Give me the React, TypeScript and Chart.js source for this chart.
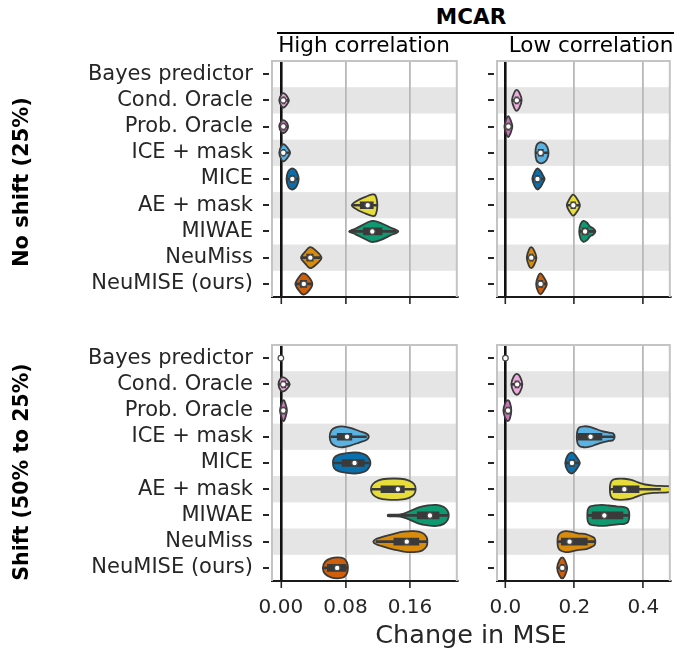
import React, { useEffect, useRef } from 'react';
import { Chart, registerables } from 'chart.js';

Chart.register(...registerables);

type Pt = [number, number];
type Range = [number, number] | null;

// ---------- data ----------
const categories = [
  'Bayes predictor',
  'Cond. Oracle',
  'Prob. Oracle',
  'ICE + mask',
  'MICE',
  'AE + mask',
  'MIWAE',
  'NeuMiss',
  'NeuMISE (ours)',
];

const violinColors = [
  '#949494',
  '#eeaadc',
  '#c87ab8',
  '#5ab2e3',
  '#0a70ad',
  '#e6dc3a',
  '#0d9a70',
  '#d98c0c',
  '#cf5f08',
];

const xTicksHigh = [0, 0.08, 0.16];
const xTickLabelsHigh = ['0.00', '0.08', '0.16'];
const xTicksLow = [0, 0.2, 0.4];
const xTickLabelsLow = ['0.0', '0.2', '0.4'];
const xRangeHigh: [number, number] = [-0.011, 0.218];
const xRangeLow: [number, number] = [-0.0245, 0.4769];

// No shift (25%), high correlation
const noShiftHighMedian = [null, 0.003, 0.003, 0.003, 0.0142, 0.1076, 0.1133, 0.0365, 0.0284];
const noShiftHighBox: Range[] = [null, [0.002, 0.005], [0.002, 0.005], [0.002, 0.005], [0.011, 0.017], [0.0983, 0.1145], [0.1023, 0.1254], [0.032, 0.040], [0.024, 0.032]];
const noShiftHighWhisker: Range[] = [null, [-0.001, 0.009], [-0.001, 0.008], [-0.001, 0.010], [0.008, 0.021], [0.088, 0.119], [0.086, 0.143], [0.026, 0.049], [0.019, 0.038]];
const noShiftHighProfile: Pt[][] = [
  [],
  [[-0.002, 0], [0.001, 0.6], [0.004, 0.67], [0.007, 0.45], [0.010, 0]],
  [[-0.002, 0], [0.001, 0.55], [0.004, 0.6], [0.007, 0.4], [0.009, 0]],
  [[-0.002, 0], [0.001, 0.7], [0.004, 0.8], [0.008, 0.5], [0.0115, 0]],
  [[0.007, 0], [0.009, 0.7], [0.013, 1], [0.018, 0.85], [0.021, 0.4], [0.022, 0]],
  [[0.088, 0], [0.095, 0.45], [0.105, 0.8], [0.112, 1], [0.117, 0.95], [0.1195, 0]],
  [[0.0845, 0], [0.092, 0.25], [0.101, 0.6], [0.110, 0.95], [0.115, 1], [0.124, 0.8], [0.135, 0.4], [0.1455, 0]],
  [[0.025, 0], [0.030, 0.55], [0.036, 1], [0.043, 0.7], [0.0503, 0]],
  [[0.018, 0], [0.022, 0.6], [0.027, 1], [0.033, 0.8], [0.039, 0]],
];

// No shift (25%), low correlation
const noShiftLowMedian = [null, 0.033, 0.0085, 0.102, 0.093, 0.197, 0.231, 0.075, 0.102];
const noShiftLowBox: Range[] = [null, [0.028, 0.037], [0.004, 0.012], [0.095, 0.11], [0.087, 0.099], [0.19, 0.203], [0.223, 0.24], [0.07, 0.08], [0.096, 0.108]];
const noShiftLowWhisker: Range[] = [null, [0.02, 0.046], [-0.002, 0.019], [0.088, 0.124], [0.079, 0.112], [0.18, 0.214], [0.215, 0.258], [0.063, 0.089], [0.09, 0.119]];
const noShiftLowProfile: Pt[][] = [
  [],
  [[0.019, 0], [0.025, 0.7], [0.032, 1], [0.040, 0.75], [0.047, 0]],
  [[-0.003, 0], [0.003, 0.75], [0.008, 1], [0.014, 0.7], [0.020, 0]],
  [[0.087, 0], [0.090, 0.7], [0.097, 0.95], [0.105, 1], [0.115, 0.85], [0.122, 0.5], [0.125, 0]],
  [[0.078, 0], [0.085, 0.7], [0.093, 1], [0.102, 0.75], [0.108, 0.4], [0.1135, 0]],
  [[0.178, 0], [0.186, 0.6], [0.196, 1], [0.206, 0.7], [0.216, 0]],
  [[0.214, 0], [0.218, 0.7], [0.226, 1], [0.236, 0.85], [0.246, 0.45], [0.255, 0.3], [0.261, 0]],
  [[0.062, 0], [0.068, 0.75], [0.075, 1], [0.083, 0.7], [0.090, 0]],
  [[0.089, 0], [0.095, 0.75], [0.102, 1], [0.110, 0.7], [0.120, 0]],
];

// Shift (50% to 25%), high correlation
const shiftHighMedian = [0, 0.003, 0.003, 0.082, 0.0913, 0.145, 0.1847, 0.156, 0.0698];
const shiftHighBox: Range[] = [null, [0.001, 0.006], [0.001, 0.005], [0.0698, 0.088], [0.0758, 0.1035], [0.124, 0.153], [0.169, 0.196], [0.140, 0.171], [0.0576, 0.0808]];
const shiftHighWhisker: Range[] = [null, [-0.002, 0.010], [-0.001, 0.007], [0.062, 0.106], [0.066, 0.110], [0.113, 0.166], [0.133, 0.207], [0.118, 0.181], [0.053, 0.083]];
const shiftHighProfile: Pt[][] = [
  [],
  [[-0.003, 0], [0.000, 0.6], [0.004, 0.65], [0.008, 0.4], [0.011, 0]],
  [[-0.001, 0], [0.0015, 0.8], [0.0035, 1], [0.0055, 0.7], [0.0075, 0]],
  [[0.0605, 0], [0.0625, 0.6], [0.068, 0.9], [0.076, 1], [0.086, 0.85], [0.097, 0.55], [0.106, 0.3], [0.109, 0]],
  [[0.0645, 0], [0.066, 0.5], [0.072, 0.8], [0.082, 0.95], [0.092, 1], [0.101, 0.9], [0.107, 0.65], [0.111, 0]],
  [[0.1116, 0], [0.114, 0.5], [0.121, 0.85], [0.132, 1], [0.148, 1], [0.158, 0.85], [0.165, 0.5], [0.167, 0]],
  [[0.1327, 0], [0.134, 0.08], [0.148, 0.1], [0.158, 0.35], [0.170, 0.75], [0.182, 0.95], [0.193, 1], [0.202, 0.8], [0.2065, 0.45], [0.208, 0]],
  [[0.1145, 0], [0.118, 0.25], [0.128, 0.5], [0.140, 0.75], [0.152, 0.95], [0.165, 1], [0.175, 0.85], [0.1805, 0.45], [0.1815, 0]],
  [[0.052, 0], [0.055, 0.6], [0.062, 0.9], [0.070, 1], [0.078, 0.9], [0.082, 0.5], [0.083, 0]],
];

// Shift (50% to 25%), low correlation
const shiftLowMedian = [0, 0.034, 0.0075, 0.247, 0.193, 0.345, 0.287, 0.186, 0.165];
const shiftLowBox: Range[] = [null, [0.028, 0.039], [0.002, 0.012], [0.21, 0.28], [0.186, 0.2], [0.3127, 0.3876], [0.2515, 0.341], [0.162, 0.2375], [0.16, 0.17]];
const shiftLowWhisker: Range[] = [null, [0.018, 0.048], [-0.005, 0.016], [0.208, 0.316], [0.175, 0.215], [0.304, 0.45], [0.239, 0.358], [0.152, 0.26], [0.151, 0.178]];
const shiftLowProfile: Pt[][] = [
  [],
  [[0.017, 0], [0.024, 0.75], [0.033, 1], [0.042, 0.75], [0.049, 0]],
  [[-0.006, 0], [0.000, 0.75], [0.007, 1], [0.013, 0.75], [0.017, 0]],
  [[0.207, 0], [0.209, 0.6], [0.215, 0.9], [0.228, 1], [0.245, 0.95], [0.262, 0.75], [0.280, 0.55], [0.300, 0.4], [0.312, 0.33], [0.317, 0]],
  [[0.1735, 0], [0.180, 0.7], [0.190, 1], [0.200, 0.85], [0.210, 0.4], [0.216, 0]],
  [[0.303, 0], [0.305, 0.6], [0.312, 0.9], [0.325, 1], [0.345, 1], [0.365, 0.9], [0.385, 0.65], [0.405, 0.45], [0.430, 0.35], [0.470, 0.3], [0.500, 0.2], [0.530, 0]],
  [[0.2375, 0], [0.239, 0.55], [0.245, 0.85], [0.260, 0.95], [0.280, 1], [0.300, 0.95], [0.325, 0.85], [0.345, 0.8], [0.356, 0.6], [0.3595, 0]],
  [[0.151, 0], [0.153, 0.55], [0.160, 0.85], [0.175, 1], [0.190, 0.95], [0.210, 0.8], [0.235, 0.7], [0.250, 0.5], [0.258, 0.35], [0.261, 0]],
  [[0.150, 0], [0.157, 0.75], [0.165, 1], [0.172, 0.75], [0.179, 0]],
];

// ---------- drawing helpers ----------
const FONT = 'DejaVu Sans';
const DARK = '#3a3a3a';

function smoothClosed(ctx: CanvasRenderingContext2D, pts: Pt[]) {
  const n = pts.length;
  ctx.moveTo(pts[0][0], pts[0][1]);
  const t = 1 / 6;
  for (let i = 0; i < n; i++) {
    const p0 = pts[(i - 1 + n) % n];
    const p1 = pts[i];
    const p2 = pts[(i + 1) % n];
    const p3 = pts[(i + 2) % n];
    ctx.bezierCurveTo(
      p1[0] + (p2[0] - p0[0]) * t,
      p1[1] + (p2[1] - p0[1]) * t,
      p2[0] - (p3[0] - p1[0]) * t,
      p2[1] - (p3[1] - p1[1]) * t,
      p2[0],
      p2[1]
    );
  }
  ctx.closePath();
}

function makeViolinPlugin(profiles: Pt[][]) {
  return {
    id: 'violins',
    beforeDraw(chart: any) {
      const { ctx, chartArea: a, scales } = chart;
      const y = scales.y;
      const band = (a.bottom - a.top) / categories.length;
      ctx.save();
      ctx.fillStyle = '#e5e5e5';
      categories.forEach((_c, i) => {
        if (i % 2 === 1) {
          const cy = y.getPixelForValue(i);
          ctx.fillRect(a.left, cy - band / 2, a.right - a.left, band);
        }
      });
      ctx.restore();
    },
    beforeDatasetsDraw(chart: any) {
      const { ctx, chartArea: a, scales } = chart;
      const x = scales.x;
      const y = scales.y;
      const band = (a.bottom - a.top) / categories.length;
      const hw = band * 0.4;
      ctx.save();
      ctx.beginPath();
      ctx.rect(a.left, a.top, a.right - a.left, a.bottom - a.top);
      ctx.clip();
      profiles.forEach((prof, i) => {
        if (!prof || prof.length < 2) return;
        const cy = y.getPixelForValue(i);
        const upper: Pt[] = prof.map(([v, w]) => [x.getPixelForValue(v), cy - w * hw]);
        const lower: Pt[] = prof
          .slice(1, prof.length - 1)
          .reverse()
          .map(([v, w]) => [x.getPixelForValue(v), cy + w * hw]);
        const loop = upper.concat(lower);
        ctx.beginPath();
        smoothClosed(ctx, loop);
        ctx.fillStyle = violinColors[i];
        ctx.fill();
        ctx.lineWidth = 1.8;
        ctx.lineJoin = 'round';
        ctx.strokeStyle = DARK;
        ctx.stroke();
      });
      ctx.restore();
    },
    afterDatasetsDraw(chart: any) {
      const { ctx, chartArea: a, scales } = chart;
      const y = scales.y;
      ctx.save();
      ctx.strokeStyle = '#c4c4c4';
      ctx.lineWidth = 2;
      ctx.beginPath();
      ctx.moveTo(a.left, a.bottom);
      ctx.lineTo(a.left, a.top);
      ctx.lineTo(a.right, a.top);
      ctx.lineTo(a.right, a.bottom);
      ctx.stroke();
      ctx.strokeStyle = '#262626';
      ctx.lineWidth = 2;
      categories.forEach((_c, i) => {
        const cy = Math.round(y.getPixelForValue(i));
        ctx.beginPath();
        ctx.moveTo(a.left - 9, cy);
        ctx.lineTo(a.left - 3, cy);
        ctx.stroke();
      });
      ctx.restore();
    },
  };
}

interface PanelProps {
  left: number;
  top: number;
  width: number;
  height: number;
  padTop: number;
  padRight: number;
  yWidth: number;
  xHeight: number;
  showY: boolean;
  showX: boolean;
  xRange: [number, number];
  xTicks: number[];
  xTickLabels: string[];
  median: (number | null)[];
  box: Range[];
  whisker: Range[];
  profile: Pt[][];
}

function Panel(p: PanelProps) {
  const ref = useRef<HTMLCanvasElement>(null);
  useEffect(() => {
    const medianPoints = p.median
      .map((m, i) => (m === null ? null : { x: m, y: categories[i] }))
      .filter((d) => d !== null);
    const chart = new Chart(ref.current as HTMLCanvasElement, {
      type: 'bar',
      data: {
        labels: categories,
        datasets: [
          {
            type: 'scatter',
            data: medianPoints as any,
            pointRadius: 2.8,
            pointBackgroundColor: '#ffffff',
            pointBorderColor: '#4a4a4a',
            pointBorderWidth: 1.2,
            order: 0,
          } as any,
          {
            type: 'bar',
            data: p.box as any,
            backgroundColor: DARK,
            borderWidth: 0,
            barThickness: 7,
            grouped: false,
            order: 1,
          } as any,
          {
            type: 'bar',
            data: p.whisker as any,
            backgroundColor: DARK,
            borderWidth: 0,
            barThickness: 2,
            grouped: false,
            order: 2,
          } as any,
        ],
      },
      options: {
        animation: false,
        responsive: false,
        devicePixelRatio: 1,
        indexAxis: 'y',
        events: [],
        layout: { padding: { top: p.padTop, right: p.padRight, left: 0, bottom: 0 } },
        plugins: {
          legend: { display: false },
          tooltip: { enabled: false },
          title: { display: false },
        },
        scales: {
          x: {
            type: 'linear',
            position: 'bottom',
            min: p.xRange[0],
            max: p.xRange[1],
            afterBuildTicks: (s: any) => {
              s.ticks = p.xTicks.map((v) => ({ value: v }));
            },
            afterFit: (s: any) => {
              s.height = p.xHeight;
              s.paddingLeft = 0;
              s.paddingRight = 0;
              s.paddingTop = 0;
              s.paddingBottom = 0;
            },
            ticks: {
              display: p.showX,
              autoSkip: false,
              maxRotation: 0,
              minRotation: 0,
              padding: 8,
              color: '#262626',
              font: { family: FONT, size: 20 },
              callback: (_v: any, i: number) => p.xTickLabels[i],
            },
            grid: {
              display: true,
              drawOnChartArea: true,
              drawTicks: true,
              tickLength: 7,
              tickWidth: 1.6,
              tickColor: '#262626',
              color: (c: any) => (c.tick && c.tick.value === 0 ? '#111111' : '#b8b8b8'),
              lineWidth: (c: any) => (c.tick && c.tick.value === 0 ? 2.6 : 1.8),
            },
            border: { display: true, color: '#1a1a1a', width: 2 },
          },
          y: {
            type: 'category',
            position: 'left',
            offset: true,
            afterFit: (s: any) => {
              s.width = p.yWidth;
              s.paddingLeft = 0;
              s.paddingRight = 0;
              s.paddingTop = 0;
              s.paddingBottom = 0;
            },
            ticks: {
              display: p.showY,
              autoSkip: false,
              padding: 19,
              color: '#262626',
              font: { family: FONT, size: 21 },
            },
            grid: { display: false, drawTicks: false },
            border: { display: false },
          },
        },
      } as any,
      plugins: [makeViolinPlugin(p.profile)],
    });
    return () => chart.destroy();
  }, []);
  return (
    <canvas
      ref={ref}
      width={p.width}
      height={p.height}
      style={{ position: 'absolute', left: p.left, top: p.top, width: p.width, height: p.height }}
    />
  );
}

function Label(props: {
  x: number;
  y: number;
  size: number;
  bold?: boolean;
  rotate?: boolean;
  color?: string;
  children: React.ReactNode;
}) {
  return (
    <div
      style={{
        position: 'absolute',
        left: props.x,
        top: props.y,
        transform: `translate(-50%, -50%)${props.rotate ? ' rotate(-90deg)' : ''}`,
        fontFamily: FONT,
        fontSize: props.size,
        fontWeight: props.bold ? 'bold' : 'normal',
        lineHeight: 1,
        whiteSpace: 'nowrap',
        color: props.color || '#000',
      }}
    >
      {props.children}
    </div>
  );
}

export default function App() {
  const topCommon = { top: 50, height: 260, padTop: 11, xHeight: 13, showX: false };
  const botCommon = { top: 335, height: 286, padTop: 10, xHeight: 40, showX: true };
  const leftCommon = {
    left: 0,
    width: 462,
    padRight: 2,
    yWidth: 272,
    showY: true,
    xRange: xRangeHigh,
    xTicks: xTicksHigh,
    xTickLabels: xTickLabelsHigh,
  };
  const rightCommon = {
    left: 470,
    width: 205,
    padRight: 0,
    yWidth: 27,
    showY: false,
    xRange: xRangeLow,
    xTicks: xTicksLow,
    xTickLabels: xTickLabelsLow,
  };
  return (
    <div
      style={{
        position: 'fixed',
        left: 0,
        top: 0,
        width: 674,
        height: 648,
        overflow: 'hidden',
        background: '#ffffff',
      }}
    >
      <Panel
        {...topCommon}
        {...leftCommon}
        median={noShiftHighMedian}
        box={noShiftHighBox}
        whisker={noShiftHighWhisker}
        profile={noShiftHighProfile}
      />
      <Panel
        {...topCommon}
        {...rightCommon}
        median={noShiftLowMedian}
        box={noShiftLowBox}
        whisker={noShiftLowWhisker}
        profile={noShiftLowProfile}
      />
      <Panel
        {...botCommon}
        {...leftCommon}
        median={shiftHighMedian}
        box={shiftHighBox}
        whisker={shiftHighWhisker}
        profile={shiftHighProfile}
      />
      <Panel
        {...botCommon}
        {...rightCommon}
        median={shiftLowMedian}
        box={shiftLowBox}
        whisker={shiftLowWhisker}
        profile={shiftLowProfile}
      />
      <Label x={471} y={16.5} size={21.5} bold>
        MCAR
      </Label>
      <div style={{ position: 'absolute', left: 277, top: 32, width: 397, height: 2, background: '#000' }} />
      <Label x={364} y={45} size={21.5}>
        High correlation
      </Label>
      <Label x={591} y={45} size={21.5}>
        Low correlation
      </Label>
      <Label x={21} y={181.5} size={21} bold rotate>
        No shift (25%)
      </Label>
      <Label x={21} y={472} size={20.5} bold rotate>
        Shift (50% to 25%)
      </Label>
      <Label x={471} y={635} size={25.5} color="#262626">
        Change in MSE
      </Label>
    </div>
  );
}
